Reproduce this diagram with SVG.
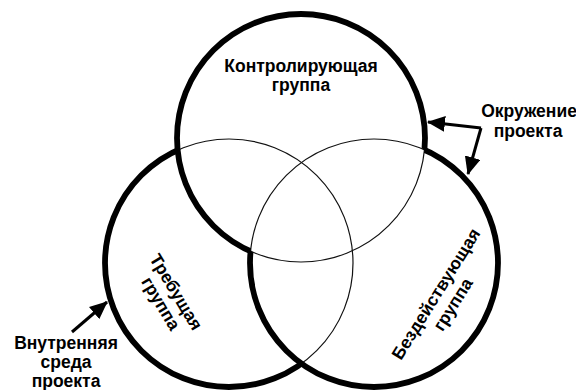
<svg xmlns="http://www.w3.org/2000/svg" width="576" height="390" viewBox="0 0 576 390">
  <style>
    .thin { fill: none; stroke: #111; stroke-width: 1.2; }
    .thick { fill: none; stroke: #000; stroke-width: 5.8; }
    .lbl { font-family: "Liberation Sans", Arial, sans-serif; font-weight: bold; font-size: 17.5px; fill: #000; text-anchor: middle; }
    .arrow { fill: none; stroke: #000; stroke-width: 3; }
  </style>
  <defs>
    <marker id="ah" markerUnits="userSpaceOnUse" markerWidth="20" markerHeight="16" refX="17" refY="8" orient="auto">
      <path d="M0,0 L18,8 L0,16 Z" fill="#000"/>
    </marker>
    <mask id="mT" maskUnits="userSpaceOnUse" x="0" y="0" width="576" height="390">
      <rect width="576" height="390" fill="#fff"/>
      <circle cx="374" cy="263" r="124" fill="#000"/>
    </mask>
    <mask id="mR" maskUnits="userSpaceOnUse" x="0" y="0" width="576" height="390">
      <rect width="576" height="390" fill="#fff"/>
      <circle cx="301" cy="138" r="124" fill="#000"/>
    </mask>
    <mask id="mL" maskUnits="userSpaceOnUse" x="0" y="0" width="576" height="390">
      <rect width="576" height="390" fill="#fff"/>
      <circle cx="301" cy="138" r="124" fill="#000"/>
      <circle cx="374" cy="263" r="124" fill="#000"/>
    </mask>
  </defs>
  <rect width="576" height="390" fill="#fff"/>

  <g id="thin-outlines">
    <circle class="thin" cx="301" cy="138" r="124"/>
    <circle class="thin" cx="229" cy="263" r="124"/>
    <circle class="thin" cx="374" cy="263" r="124"/>
  </g>

  <g id="control-group">
    <circle class="thick" cx="301" cy="138" r="124" mask="url(#mT)"/>
    <text class="lbl" x="301" y="72">Контролирующая</text>
    <text class="lbl" x="301" y="91">группа</text>
  </g>

  <g id="requiring-group">
    <circle class="thick" cx="229" cy="263" r="124" mask="url(#mL)"/>
    <g transform="translate(171,295) rotate(59)">
      <text class="lbl" x="0" y="0">Требущая</text>
      <text class="lbl" x="2" y="19">группа</text>
    </g>
  </g>

  <g id="idle-group">
    <circle class="thick" cx="374" cy="263" r="124" mask="url(#mR)"/>
    <g transform="translate(441,297) rotate(-58)">
      <text class="lbl" x="0" y="0">Бездействующая</text>
      <text class="lbl" x="0" y="20">группа</text>
    </g>
  </g>

  <g id="project-environment">
    <text class="lbl" x="529" y="117">Окружение</text>
    <text class="lbl" x="528" y="137">проекта</text>
  </g>

  <g id="internal-environment">
    <text class="lbl" x="66" y="349">Внутренняя</text>
    <text class="lbl" x="66" y="368">среда</text>
    <text class="lbl" x="66" y="387">проекта</text>
  </g>

  <g id="connectors">
    <line class="arrow" x1="481" y1="128" x2="428" y2="122" marker-end="url(#ah)"/>
    <line class="arrow" x1="481" y1="128" x2="468" y2="174" marker-end="url(#ah)"/>
    <line class="arrow" x1="72" y1="332" x2="107" y2="302" marker-end="url(#ah)"/>
  </g>
</svg>
